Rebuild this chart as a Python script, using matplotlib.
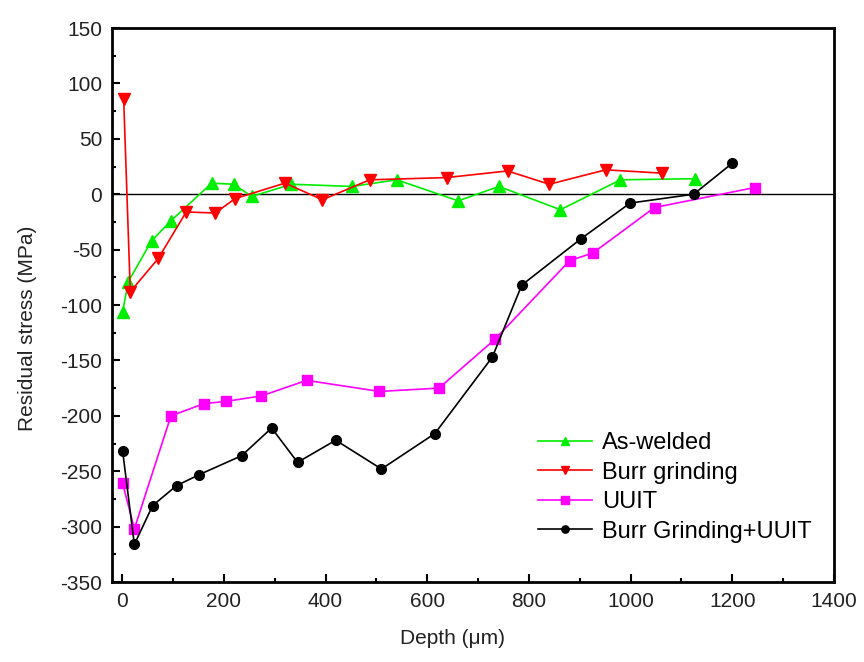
import matplotlib
matplotlib.use('Agg')
import matplotlib.pyplot as plt
from matplotlib.ticker import MultipleLocator

plt.rcParams['font.family'] = ['Liberation Sans', 'DejaVu Sans']
plt.rcParams['axes.unicode_minus'] = False

# depth (um) and residual stress (MPa)
aw_depth = [1, 12, 58, 96, 176, 219, 255, 333, 452, 540, 661, 741, 862, 980, 1126]
aw_stress = [-106, -79, -42, -24, 10, 9, -2, 9, 7, 13, -6, 7, -14, 13, 14]

bg_depth = [3, 16, 71, 126, 183, 222, 320, 394, 487, 638, 758, 840, 951, 1062]
bg_stress = [86, -88, -58, -16, -17, -4, 10, -5, 13, 15, 21, 9, 22, 19]

uuit_depth = [1, 24, 96, 161, 204, 274, 363, 506, 623, 733, 880, 926, 1047, 1244]
uuit_stress = [-261, -302, -200, -189, -187, -182, -168, -178, -175, -131, -60, -53, -12, 6]

bgu_depth = [1, 24, 60, 107, 152, 235, 294, 345, 420, 510, 615, 728, 786, 903, 999, 1124, 1200]
bgu_stress = [-232, -316, -281, -263, -253, -236, -211, -242, -222, -248, -216, -147, -82, -40, -8, 0, 28]

fig = plt.figure(figsize=(8.64, 6.62), dpi=100)
ax = fig.add_axes([0.1296, 0.1208, 0.8357, 0.8369])

ax.axhline(0, color='black', lw=1.0, zorder=1)

ax.plot(aw_depth, aw_stress, color='#00ee00', marker='^', ms=8, lw=1.2, label='As-welded')
ax.plot(bg_depth, bg_stress, color='#ff0000', marker='v', ms=8, lw=1.2, label='Burr grinding')
ax.plot(uuit_depth, uuit_stress, color='#ff00ff', marker='s', ms=7, lw=1.2, label='UUIT')
ax.plot(bgu_depth, bgu_stress, color='black', marker='o', ms=7, lw=1.2, label='Burr Grinding+UUIT')

ax.set_xlim(-20, 1400)
ax.set_ylim(-350, 150)
ax.xaxis.set_major_locator(MultipleLocator(200))
ax.xaxis.set_minor_locator(MultipleLocator(100))
ax.yaxis.set_major_locator(MultipleLocator(50))
ax.yaxis.set_minor_locator(MultipleLocator(25))
ax.tick_params(which='both', direction='in', width=1.5, labelsize=15, pad=7,
               colors='black', labelcolor='#222222')
ax.tick_params(axis='both', which='major', length=6)
ax.tick_params(axis='both', which='minor', length=3)
for s in ax.spines.values():
    s.set_linewidth(2)

ax.set_xlabel('Depth (μm)', fontsize=15, color='#222222')
ax.set_ylabel('Residual stress (MPa)', fontsize=15, color='#222222')
ax.xaxis.set_label_coords(0.471, -0.084)
ax.yaxis.set_label_coords(-0.104, 0.458)

ax.legend(loc='upper left', bbox_to_anchor=(0.6227, 0.3474), bbox_transform=fig.transFigure,
          frameon=False, fontsize=17, numpoints=1, handlelength=2.3, handletextpad=0.4,
          labelspacing=0.32, borderpad=0, borderaxespad=0, markerscale=0.75)

fig.savefig('out.png', dpi=100)
